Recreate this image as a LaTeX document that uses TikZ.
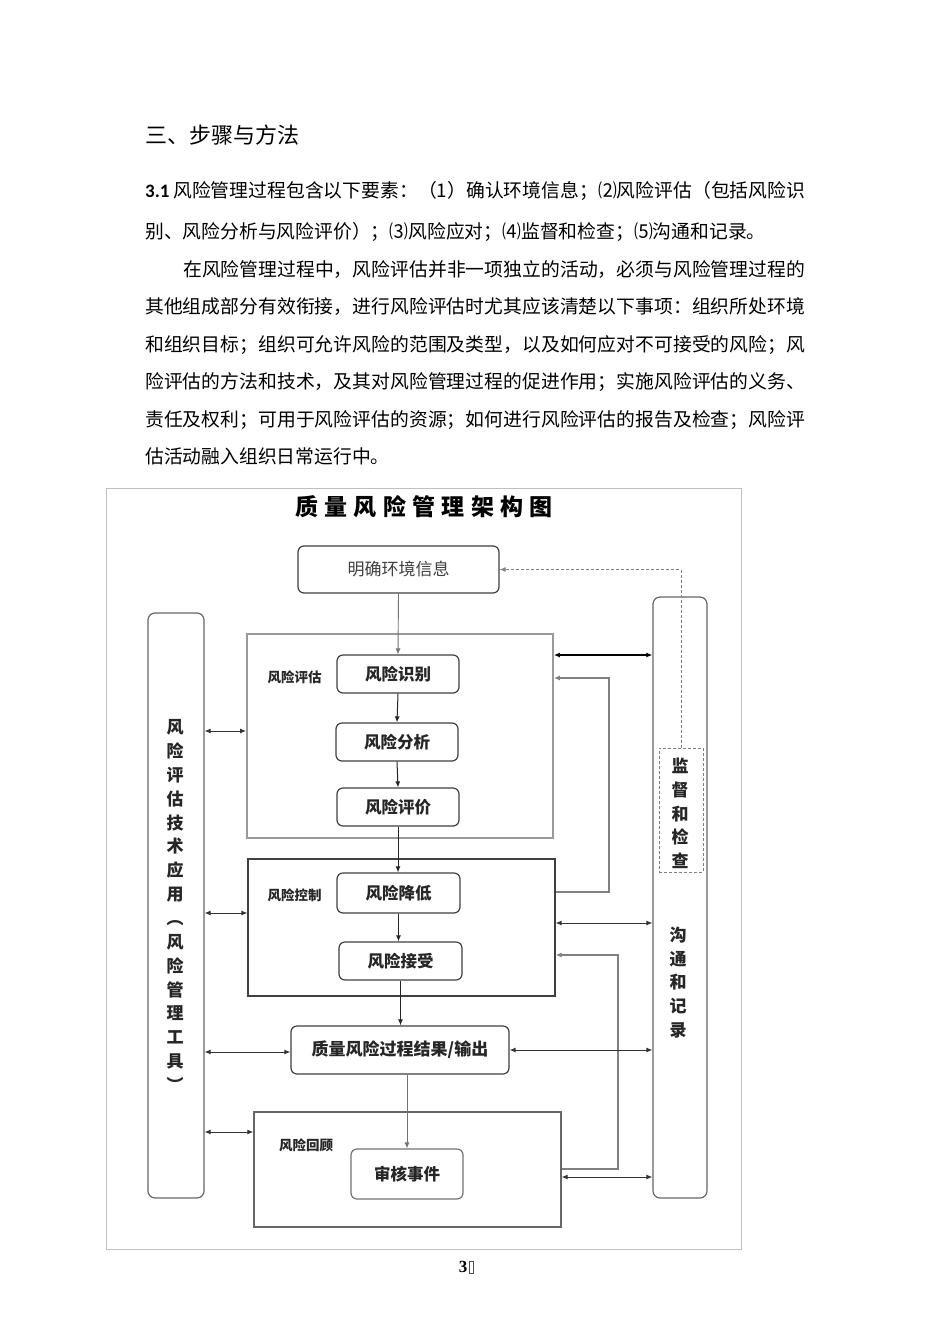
\documentclass[tikz,border=0pt]{standalone}
\usepackage{fontspec}
\setmainfont{Noto Sans CJK SC}
\newfontfamily\latinfont{Carlito}
\newfontfamily\pnfont{Liberation Serif}
\usetikzlibrary{arrows.meta}
\def\JA#1{\ifx\relax#1\else#1\expandafter\JB\fi}
\def\JB#1{\ifx\relax#1\else\hskip 0pt plus 1fil\relax#1\expandafter\JB\fi}
\newcommand\jline[2]{\makebox[#1][s]{\JA#2\relax}}
\newcommand\bodyf{\fontsize{18.8}{18.8}\selectfont}
\begin{document}
\begin{tikzpicture}[x=1pt,y=-1pt,
  txt/.style={anchor=base west, inner sep=0, font=\bodyf},
  rbox/.style={draw=black!75, line width=1.2pt, rounded corners=6pt, fill=white, inner sep=0, font=\bfseries\fontsize{16.5}{16.5}\selectfont, text=black!85},
  grp/.style={inner sep=0},
  tall/.style={draw=black!60, line width=1.2pt, rounded corners=7pt, inner sep=0},
  vtext/.style={align=center, inner sep=0, font=\bfseries\fontsize{17}{23.8}\selectfont, text=black!85},
  glbl/.style={inner sep=0, font=\bfseries\fontsize{13.5}{13.5}\selectfont, text=black!85},
  arrone/.style={-{Latex[length=6pt,width=5pt]}, line width=1pt, draw=black!85},
  arrgray/.style={-{Latex[length=6pt,width=5pt]}, line width=0.9pt, draw=black!55},
  darr/.style={{Latex[length=6pt,width=5pt]}-{Latex[length=6pt,width=5pt]}, line width=1pt, draw=black!80},
  fback/.style={-{Latex[length=6pt,width=5pt]}, line width=1.3pt, draw=black!50}
]
\useasboundingbox[fill=white] (0,0) rectangle (950,1344);

% ---- body text ----
\node[anchor=base west, inner sep=0, font=\fontsize{22}{22}\selectfont] (head) at (145,143) {三、步骤与方法};
\node[anchor=base west, inner sep=0, font=\latinfont\bfseries\fontsize{19}{19}\selectfont] (n31) at (145,197) {3.1};
\node[txt] (t1) at (173,197) {\jline{632pt}{风险管理过程包含以下要素：（1）确认环境信息；⑵风险评估（包括风险识}};
\node[txt] (t2) at (145,238) {别、风险分析与风险评价）；⑶风险应对；⑷监督和检查；⑸沟通和记录。};
\node[txt] (p1) at (183,276) {\jline{622pt}{在风险管理过程中，风险评估并非一项独立的活动，必须与风险管理过程的}};
\node[txt] (p2) at (145,313.5) {\jline{660pt}{其他组成部分有效衔接，进行风险评估时尤其应该清楚以下事项：组织所处环境}};
\node[txt] (p3) at (145,351) {\jline{660pt}{和组织目标；组织可允许风险的范围及类型，以及如何应对不可接受的风险；风}};
\node[txt] (p4) at (145,388.5) {\jline{660pt}{险评估的方法和技术，及其对风险管理过程的促进作用；实施风险评估的义务、}};
\node[txt] (p5) at (145,426) {\jline{660pt}{责任及权利；可用于风险评估的资源；如何进行风险评估的报告及检查；风险评}};
\node[txt] (p6) at (145,463.5) {估活动融入组织日常运行中。};

% ---- frame and title ----
\node[draw=black!25, line width=1pt, minimum width=635, minimum height=761, inner sep=0] (F) at (423.5,868.5) {};
\node[inner sep=0, font=\bfseries\fontsize{23}{23}\selectfont] (T) at (424,507) {\jline{258pt}{质量风险管理架构图}};

% ---- groups ----
\node[grp, draw=black!40, line width=1.8pt, minimum width=306, minimum height=204] (G1) at (400,736) {};
\node[grp, draw=black!75, line width=1.2pt, minimum width=307, minimum height=137] (G2) at (401.5,927.5) {};
\node[grp, draw=black!60, line width=1.3pt, minimum width=307, minimum height=115] (G3) at (407.5,1169.5) {};
\node[glbl] (g1l) at (294.5,677) {风险评估};
\node[glbl] (g2l) at (294.5,895) {风险控制};
\node[glbl] (g3l) at (306,1145) {风险回顾};

% ---- side columns ----
\node[tall, minimum width=56, minimum height=585] (L) at (176,905.5) {};
\node[tall, minimum width=54, minimum height=601] (R) at (680,897.5) {};
\node[draw=black!50, dashed, dash pattern=on 3pt off 2pt, line width=1pt, inner sep=0, minimum width=44, minimum height=124] (M) at (681,810) {};
\node[vtext] (Lt1) at (175,811) {风\\险\\评\\估\\技\\术\\应\\用};
\node[vtext] (Lt2) at (175,1006) {︵\\风\\险\\管\\理\\工\\具\\︶};
\node[vtext] (Mt) at (680,813.5) {监\\督\\和\\检\\查};
\node[vtext] (Rt) at (678,982.5) {沟\\通\\和\\记\\录};

% ---- boxes ----
\node[rbox, font=\fontsize{17}{17}\selectfont, text=black!75, minimum width=201, minimum height=47] (A) at (398.5,569.5) {明确环境信息};
\node[rbox, minimum width=122, minimum height=38] (B1) at (398,674) {风险识别};
\node[rbox, minimum width=122, minimum height=38] (B2) at (397,742) {风险分析};
\node[rbox, minimum width=122, minimum height=38] (B3) at (398,807) {风险评价};
\node[rbox, minimum width=123, minimum height=40] (C1) at (398.5,893) {风险降低};
\node[rbox, minimum width=123, minimum height=38] (C2) at (400.5,961) {风险接受};
\node[rbox, font=\bfseries\fontsize{17}{17}\selectfont, minimum width=218, minimum height=48] (O) at (400,1050) {质量风险过程结果/输出};
\node[rbox, draw=black!55, minimum width=112, minimum height=50] (E) at (407,1174) {审核事件};

% ---- vertical flow ----
\draw[arrgray] (A.south) -- (B1.north);
\draw[arrone] (B1.south) -- (B2.north);
\draw[arrone] (B2.south) -- (B3.north);
\draw[arrone] (B3.south) -- (B3.south |- C1.north);
\draw[arrone] (C1.south) -- (C1.south |- C2.north);
\draw[arrone] (C2.south) -- (C2.south |- O.north);
\draw[arrgray] (E.north |- O.south) -- (E.north);

% ---- left links ----
\draw[darr] (L.east |- 0,731) -- (G1.west |- 0,731);
\draw[darr] (L.east |- 0,913) -- (G2.west |- 0,913);
\draw[darr] (L.east |- 0,1052) -- (O.west |- 0,1052);
\draw[darr] (L.east |- 0,1132) -- (G3.west |- 0,1132);

% ---- right links ----
\draw[darr, line width=1.6pt, draw=black] (G1.east |- 0,655) -- (R.west |- 0,655);
\coordinate (f1) at (609,678);
\draw[fback] (G2.east |- 0,892) -- (f1 |- 0,892) -- (f1) -- (G1.east |- f1);
\draw[darr] (G2.east |- 0,923) -- (R.west |- 0,923);
\coordinate (f2) at (618,955);
\draw[fback] (G3.east |- 0,1169) -- (f2 |- 0,1169) -- (f2) -- (G2.east |- f2);
\draw[darr] (O.east) -- (O.east -| R.west);
\draw[darr] (G3.east |- 0,1177) -- (R.west |- 0,1177);
\draw[-{Latex[length=6pt,width=5pt]}, draw=black!50, line width=1pt, dash pattern=on 3pt off 2pt] (M.north) -- (M.north |- A.east) -- (A.east);

% ---- page number ----
\node[inner sep=0, font=\pnfont\bfseries\fontsize{17}{17}\selectfont] (pn) at (463,1267) {3};
\node[draw=black!70, line width=0.5pt, inner sep=0, minimum width=4, minimum height=12] (tofu) at (471,1267) {};
\end{tikzpicture}
\end{document}
